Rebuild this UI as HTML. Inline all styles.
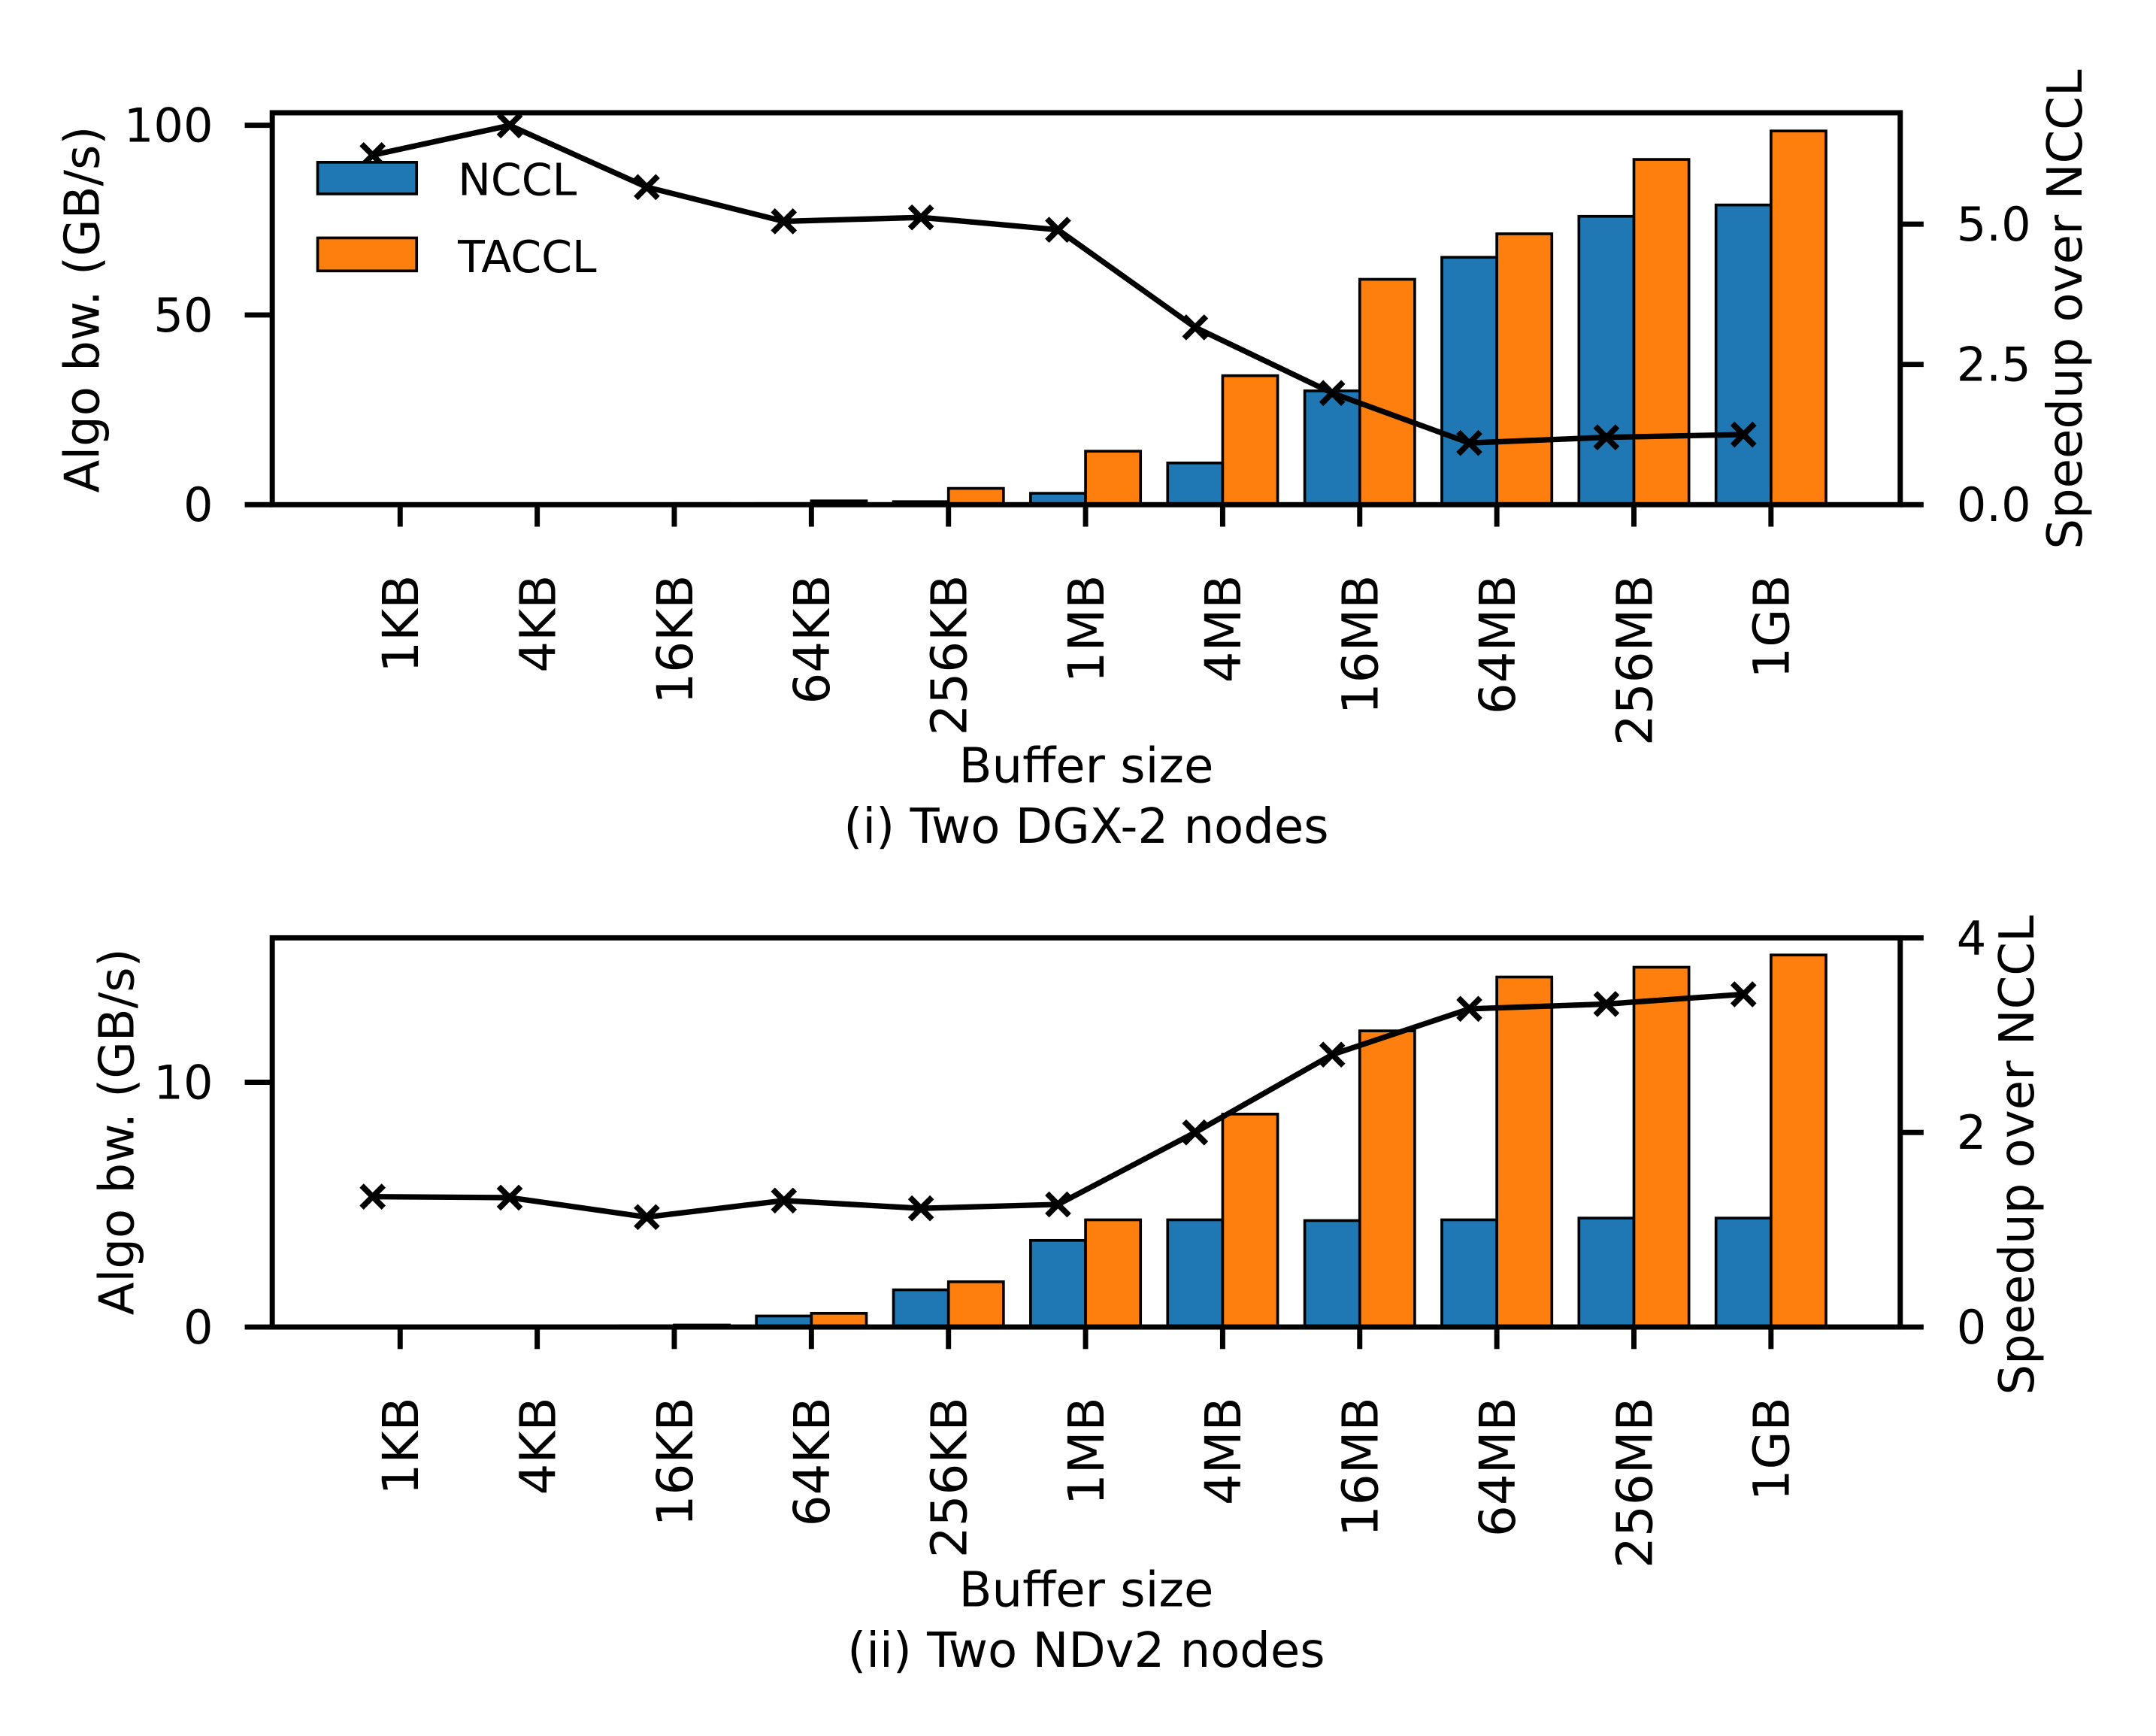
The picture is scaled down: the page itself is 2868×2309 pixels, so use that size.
<!DOCTYPE html>
<html><head><meta charset="utf-8">
<style>html,body{margin:0;padding:0;background:#fff}svg{display:block}text{font-family:"DejaVu Sans","Liberation Sans",sans-serif;fill:#000}</style>
</head><body>
<svg id="fig" width="2868" height="2309" viewBox="0 0 1568 1262.4" xmlns="http://www.w3.org/2000/svg"></svg>
<script>
const categories = ["1KB","4KB","16KB","64KB","256KB","1MB","4MB","16MB","64MB","256MB","1GB"];
const ncclTop = [0,0,0.1,0.3,0.8,3,11,30,65.2,76,79];
const tacclTop = [0.05,0.1,0.3,1,4.3,14.1,34,59.4,71.4,91,98.5];
const speedTop = [6.23,6.76,5.66,5.05,5.12,4.9,3.16,1.99,1.1,1.2,1.25];
const yTicksTop = [0,50,100];
const y2TicksTop = ["0.0","2.5","5.0"];
const ncclBot = [0,0,0.05,0.45,1.52,3.54,4.38,4.35,4.38,4.45,4.45];
const tacclBot = [0,0,0.08,0.56,1.85,4.38,8.7,12.1,14.3,14.7,15.2];
const speedBot = [1.34,1.33,1.13,1.3,1.22,1.26,2.0,2.8,3.27,3.32,3.42];
const yTicksBot = [0,10];
const y2TicksBot = ["0","2","4"];

const NS="http://www.w3.org/2000/svg";
const svg=document.getElementById('fig');
function mk(tag,attrs,parent){const e=document.createElementNS(NS,tag);for(const k in attrs)e.setAttribute(k,attrs[k]);(parent||svg).appendChild(e);return e;}

function panel(cfg){
  const g=mk('g',{});
  
  
  const L=198,R=1382,T=cfg.top,B=cfg.bottom;
  const x=i=>291+i*99.7;
  const y=v=>B-(v/cfg.ymax)*(B-T);
  const y2=v=>B-(v/cfg.y2max)*(B-T);
  cfg.nccl.forEach((v,i)=>{
    const r=mk('rect',{x:x(i)-40,y:y(v),width:40,height:B-y(v),fill:'#1f77b4',stroke:'#000','stroke-width':2},g);
    
    
  });
  cfg.taccl.forEach((v,i)=>{
    const r=mk('rect',{x:x(i),y:y(v),width:40,height:B-y(v),fill:'#ff7f0e',stroke:'#000','stroke-width':2},g);
    
    
  });
  const pts=cfg.speed.map((v,i)=>(x(i)-20)+','+y2(v)).join(' ');
  const pl=mk('polyline',{points:pts,fill:'none',stroke:'#000','stroke-width':4},g);
  
  
  cfg.speed.forEach((v,i)=>{
    const cx=x(i)-20,cy=y2(v),s=8;
    const m=mk('path',{d:`M${cx-s},${cy-s}L${cx+s},${cy+s}M${cx-s},${cy+s}L${cx+s},${cy-s}`,stroke:'#000','stroke-width':4.2,fill:'none'},g);
    
    
  });
  const fr=mk('rect',{x:L,y:T,width:R-L,height:B-T,fill:'none',stroke:'#000','stroke-width':3.8},g);
  
  
  cfg.yticks.forEach(v=>{
    mk('line',{x1:L-20,x2:L,y1:y(v),y2:y(v),stroke:'#000','stroke-width':3.8},g);
    const t=mk('text',{x:L-43,y:y(v)+12,'text-anchor':'end','font-size':34},g);
    t.textContent=v;
    
    
  });
  cfg.y2ticks.forEach(s=>{
    const v=parseFloat(s);
    mk('line',{x1:R,x2:R+17,y1:y2(v),y2:y2(v),stroke:'#000','stroke-width':3.8},g);
    const t=mk('text',{x:R+41,y:y2(v)+12,'font-size':34},g);
    t.textContent=s;
    
    
  });
  categories.forEach((c,i)=>{
    mk('line',{x1:x(i),x2:x(i),y1:B,y2:B+16,stroke:'#000','stroke-width':3.8},g);
    const ty=B+51;
    const t=mk('text',{x:x(i)+13,y:ty,'text-anchor':'end','font-size':36,transform:`rotate(-90 ${x(i)+13} ${ty})`},g);
    t.textContent=c;
    
    
  });
  const yl=mk('text',{x:0,y:0,'text-anchor':'middle','font-size':35,transform:`translate(${cfg.ylx},${cfg.yly}) rotate(-90)`},g);
  yl.textContent='Algo bw. (GB/s)';
  
  
  const yr=mk('text',{x:0,y:0,'text-anchor':'middle','font-size':35,transform:`translate(${cfg.yrx},${cfg.yry}) rotate(-90)`},g);
  yr.textContent='Speedup over NCCL';
  
  
  const xl=mk('text',{x:790,y:cfg.xly,'text-anchor':'middle','font-size':35},g);
  xl.textContent='Buffer size';
  
  
  const st=mk('text',{x:790,y:cfg.xly+44,'text-anchor':'middle','font-size':35},g);
  st.textContent=cfg.sub;
  
  
}

panel({name:'dgx2-panel',top:82,bottom:367,ymax:103.3,y2max:5/((367-163)/(367-82)),nccl:ncclTop,taccl:tacclTop,speed:speedTop,yticks:yTicksTop,y2ticks:y2TicksTop,ylx:72,yly:225,yrx:1514,yry:225,xly:569,sub:'(i) Two DGX-2 nodes'});
panel({name:'ndv2-panel',top:682,bottom:965,ymax:15.9,y2max:4,nccl:ncclBot,taccl:tacclBot,speed:speedBot,yticks:yTicksBot,y2ticks:y2TicksBot,ylx:97,yly:823,yrx:1479,yry:840,xly:1168,sub:'(ii) Two NDv2 nodes'});

const lg=mk('g',{});


const r1=mk('rect',{x:231,y:118,width:72,height:23,fill:'#1f77b4',stroke:'#000','stroke-width':2},lg);


const t1=mk('text',{x:333,y:142,'font-size':32},lg);t1.textContent='NCCL';


const r2=mk('rect',{x:231,y:173,width:72,height:24,fill:'#ff7f0e',stroke:'#000','stroke-width':2},lg);


const t2=mk('text',{x:333,y:198,'font-size':32},lg);t2.textContent='TACCL';


</script>
</body></html>
